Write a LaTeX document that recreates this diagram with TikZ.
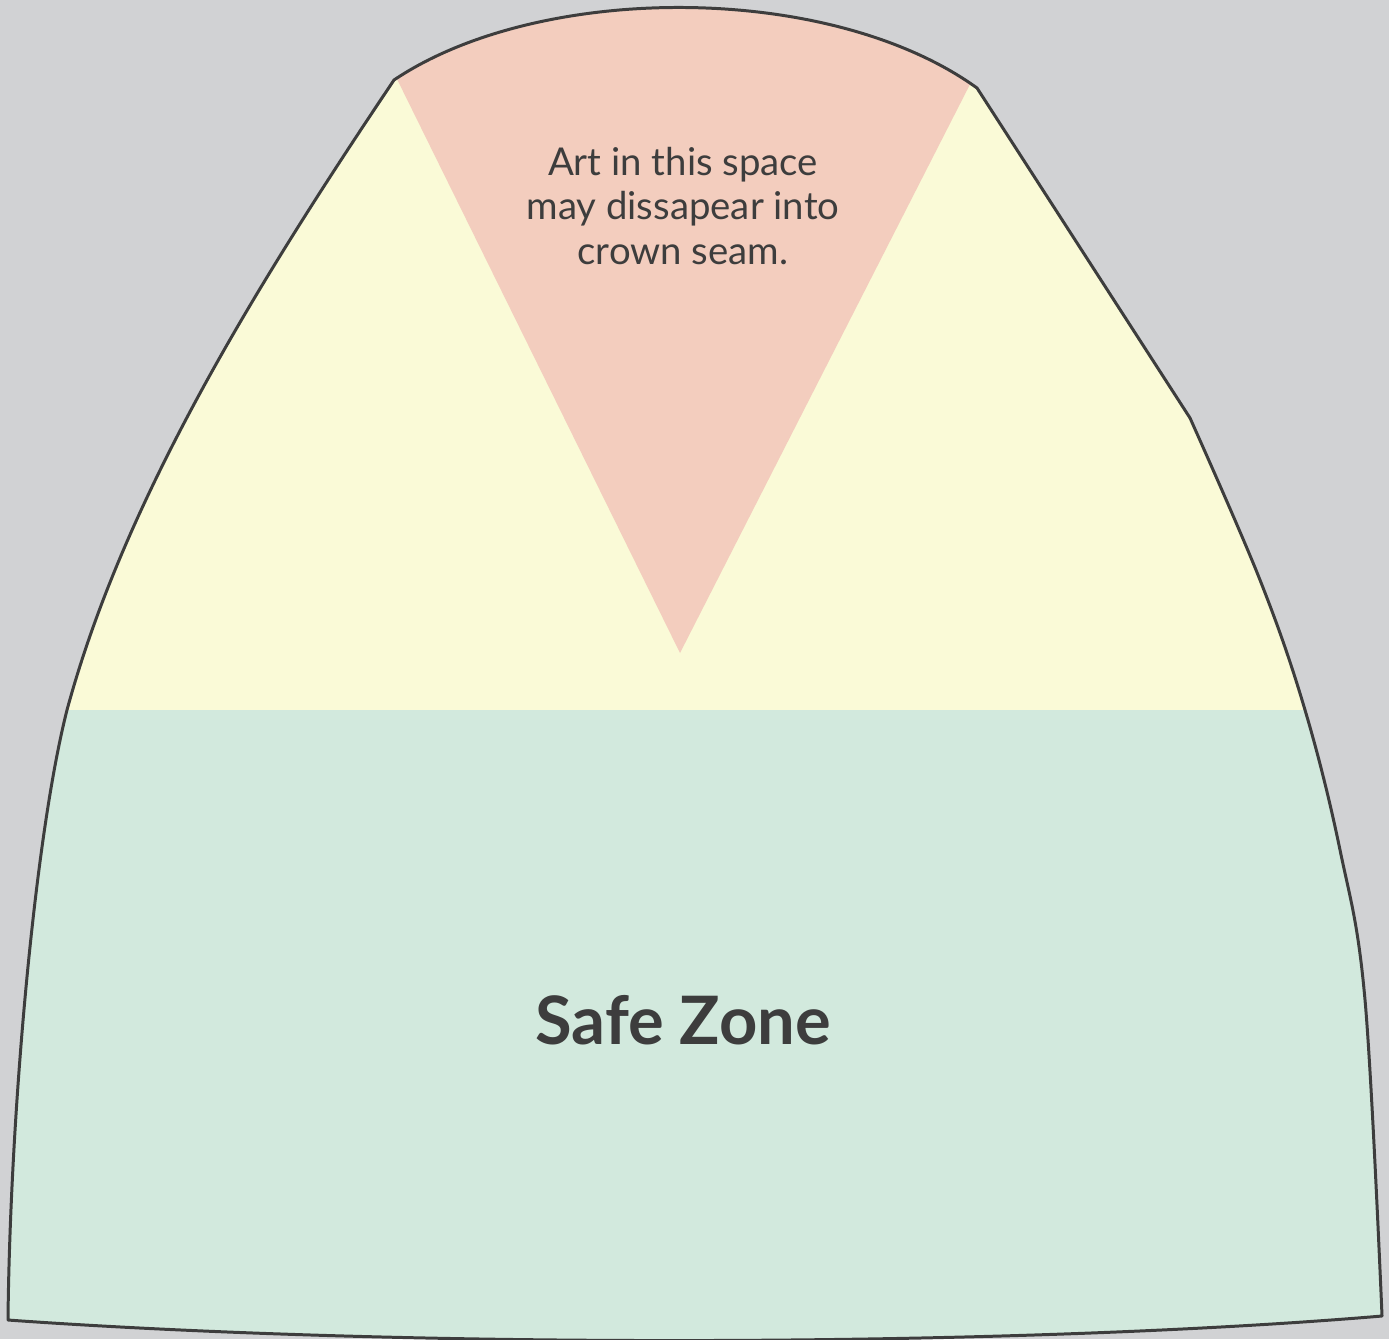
\documentclass[tikz,border=0pt]{standalone}
\usepackage{fontspec}
\setmainfont{Lato}
\usepackage{xcolor}
\usepackage{tikz}
\definecolor{bggray}{HTML}{D1D2D4}
\definecolor{zoneyel}{HTML}{FAFAD7}
\definecolor{zonegrn}{HTML}{D2E9DD}
\definecolor{zonepnk}{HTML}{F3CDBE}
\definecolor{inkgray}{HTML}{3D3D3D}
\newcommand\panelpath{(8,1320) .. controls (10,1120) and (34,840) .. (67,710) .. controls (124,500) and (253,290) .. (394,80) .. controls (540,-18) and (830,-18) .. (977,88) -- (1190,418) -- plot[smooth,tension=0.6] coordinates {(1190,418) (1260,580) (1305,710) (1340,850) (1365,1000) (1382,1316)} .. controls (1000,1348) and (400,1348) .. (8,1320) -- cycle}

\begin{document}
\begin{tikzpicture}[x=0.01cm,y=-0.01cm,
 edge/.style={draw=inkgray,line width=0.85pt,line join=round},
 note/.style={align=center,text=inkgray,font=\fontsize{10.9}{12.6}\selectfont},
 safe/.style={text=inkgray,font=\fontsize{19}{21}\selectfont\bfseries}]
\fill[bggray] (0,0) rectangle (1389,1339);
\useasboundingbox (0,0) rectangle (1389,1339);
% zones, cut to the panel
\begin{scope}
\clip \panelpath;
\fill[zoneyel] (0,0) rectangle (1389,710);
\fill[zonegrn] (0,710) rectangle (1389,1360);
\fill[zonepnk] (358,0) -- (680,653) -- (1013,0) -- cycle;
\end{scope}
\draw[edge] \panelpath;
\node[note] (seam) at (683,206) {Art in this space\\ may dissapear into\\ crown seam.};
\node[safe] (safe) at (683,1020) {Safe Zone};
\end{tikzpicture}
\end{document}
